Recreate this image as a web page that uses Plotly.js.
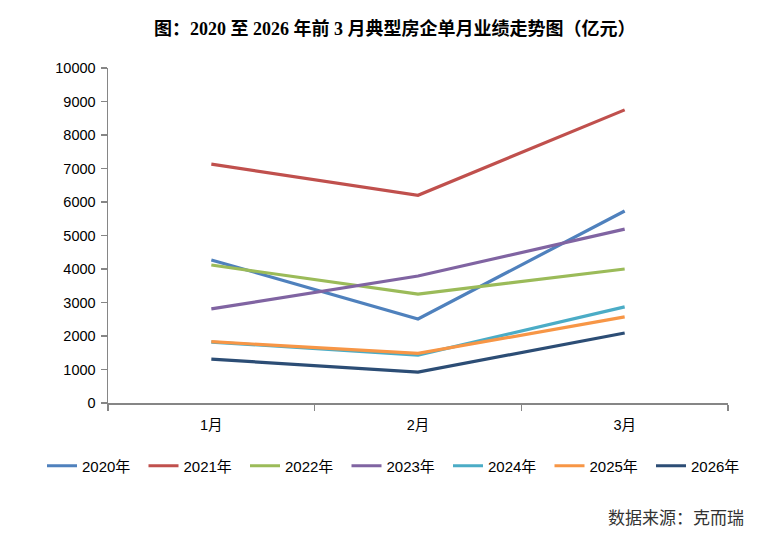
<!DOCTYPE html>
<html>
<head>
<meta charset="utf-8">
<script src="https://cdn.plot.ly/plotly-3.0.1.min.js"></script>
<style>html,body{margin:0;padding:0;background:#fff;}#chart{width:774px;height:540px;}</style>
</head>
<body>
<div id="chart"></div>
<script>
var months = ["1月", "2月", "3月"];
var seriesNames = ["2020年", "2021年", "2022年", "2023年", "2024年", "2025年", "2026年"];
var v2020 = [4270, 2510, 5730];
var v2021 = [7130, 6200, 8750];
var v2022 = [4120, 3250, 4000];
var v2023 = [2810, 3790, 5190];
var v2024 = [1820, 1430, 2870];
var v2025 = [1830, 1480, 2570];
var v2026 = [1310, 920, 2090];
var yTicks = [0, 1000, 2000, 3000, 4000, 5000, 6000, 7000, 8000, 9000, 10000];

var allValues = [v2020, v2021, v2022, v2023, v2024, v2025, v2026];
var colors = ["#4F81BD", "#C0504D", "#9BBB59", "#8064A2", "#4BACC6", "#F79646", "#2C4D75"];

var serif = '"Liberation Serif", "Noto Sans CJK SC", serif';
var sans = '"Liberation Sans", "Noto Sans CJK SC", sans-serif';
var traces = allValues.map(function (vals, i) {
  return {
    x: months, y: vals, name: seriesNames[i], type: "scatter", mode: "lines",
    line: {color: colors[i], width: 3.2},
    hoverinfo: "skip"
  };
});

var layout = {
  width: 774, height: 540,
  margin: {l: 108, r: 46, t: 68, b: 137},
  paper_bgcolor: "#fff", plot_bgcolor: "#fff",
  font: {family: sans, size: 14, color: "#000"},
  title: {
    text: "<b>图：2020 至 2026 年前 3 月典型房企单月业绩走势图（亿元）</b>",
    xref: "container", x: 0.51, xanchor: "center",
    yref: "container", y: 1 - 29 / 540, yanchor: "middle",
    font: {family: serif, size: 18, color: "#000"}
  },
  xaxis: {
    type: "category", showgrid: false, zeroline: false,
    showline: true, linecolor: "#868686", linewidth: 1.5,
    ticks: "outside", tickson: "boundaries", ticklen: 6, tickcolor: "#868686", tickwidth: 1.5,
    ticklabelstandoff: 8,
    tickfont: {family: sans, size: 14.5},
    range: [-0.5, 2.5]
  },
  yaxis: {
    range: [0, 10000], tickvals: yTicks, ticktext: yTicks.map(String),
    showgrid: false, zeroline: false,
    showline: true, linecolor: "#868686", linewidth: 1.5,
    ticks: "outside", ticklen: 6, tickcolor: "#868686", tickwidth: 1.5,
    ticklabelstandoff: 2,
    tickfont: {family: sans, size: 14.5}
  },
  showlegend: true,
  legend: {
    orientation: "h", xref: "paper", x: (42 - 108) / 620, xanchor: "left",
    yref: "paper", y: (403 - 466) / 335, yanchor: "middle",
    font: {family: sans, size: 15}, itemwidth: 30,
    entrywidth: 56.5, entrywidthmode: "pixels", tracegroupgap: 0
  },
  annotations: [{
    text: "数据来源：克而瑞", xref: "paper", yref: "paper",
    x: (746 - 108) / 620, xanchor: "right", y: (403 - 518) / 335, yanchor: "middle",
    showarrow: false, font: {family: serif, size: 17, color: "#333"}
  }]
};

Plotly.newPlot("chart", traces, layout, {displayModeBar: false, staticPlot: true});
</script>
</body>
</html>
